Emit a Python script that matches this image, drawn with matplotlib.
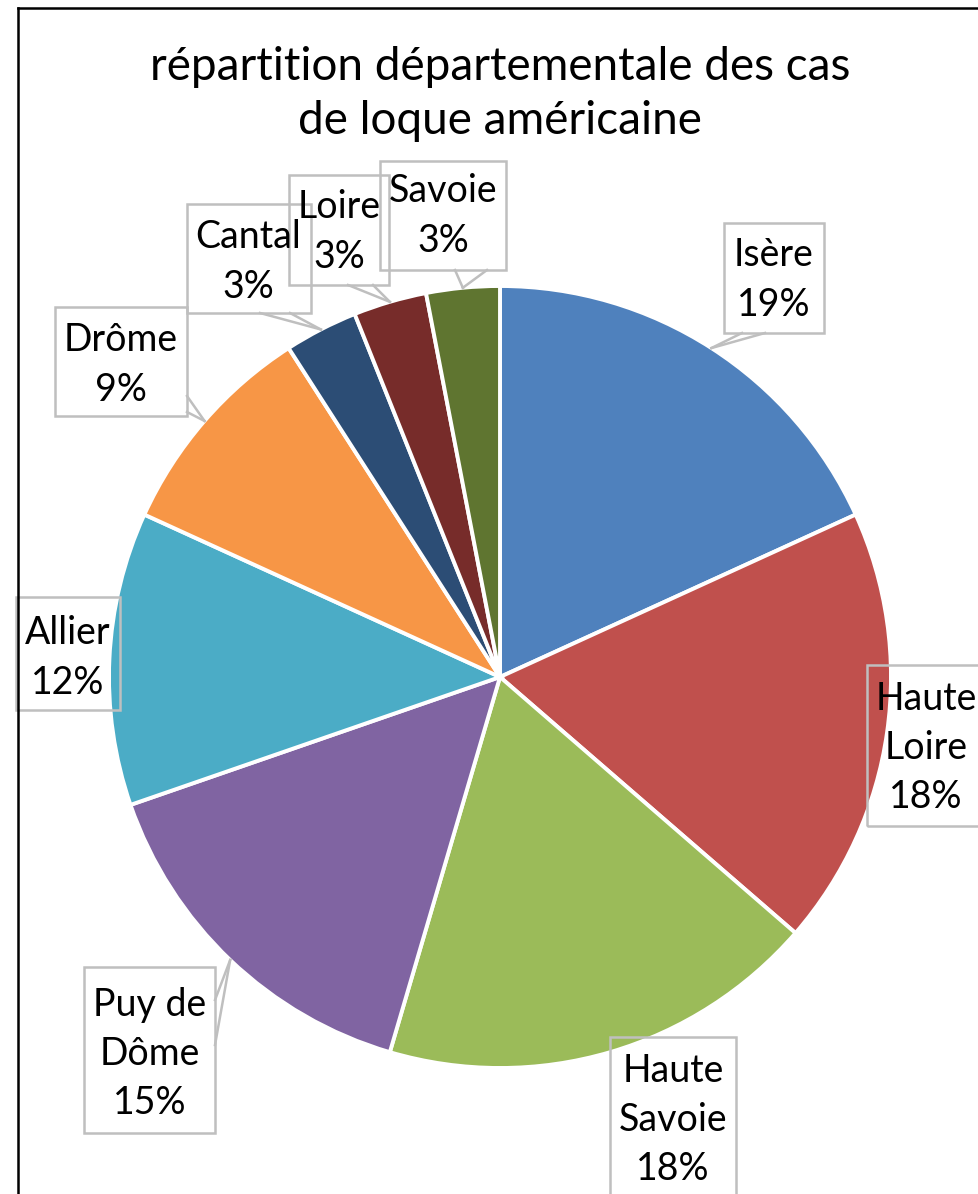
import matplotlib
matplotlib.use('Agg')
import matplotlib.pyplot as plt
import matplotlib.patches as mpatches
import numpy as np

# ── Données ───────────────────────────────────────────────────────────────────
departements = ['Isère', 'Haute\nLoire', 'Haute\nSavoie', 'Puy de\nDôme', 'Allier',
                'Drôme', 'Cantal', 'Loire', 'Savoie']
nb_cas = [6, 6, 6, 5, 4, 3, 1, 1, 1]                  # taille des secteurs
pourcentages = [19, 18, 18, 15, 12, 9, 3, 3, 3]       # étiquettes affichées
couleurs = ['#4F81BD', '#C0504D', '#9BBB59', '#8064A2', '#4BACC6',
            '#F79646', '#2C4D75', '#772C2A', '#5F7530']
titre = 'répartition départementale des cas\nde loque américaine'

# ── Mise en page (pixels, origine en haut à gauche) ──────────────────────────
W, H = 979, 1194
CX, CY, R = 500, 677, 391
# boîte (x0, y0, x1, y1), centre texte (x, y), base de la queue (2 points) ou None
boites = [
    ((724, 223, 824, 333), (774, 280), [(742, 333), (765, 333)]),
    ((867, 665, 1000, 826), (926, 748), None),
    ((610, 1037, 736, 1220), (673, 1120), None),
    ((84, 967, 215, 1133), (150, 1054), [(215, 1000), (215, 1045)]),
    ((16, 597, 120, 710), (68, 658), None),
    ((55, 307, 187, 416), (121, 365), [(187, 396), (187, 412)]),
    ((187, 204, 311, 313), (248, 262), [(260, 313), (290, 313)]),
    ((289, 175, 389, 285), (339, 232), [(348, 285), (373, 285)]),
    ((380, 161, 506, 270), (443, 216), [(455, 270), (487, 270)]),
]

def Y(py):
    return H - py

plt.rcParams['font.family'] = ['Lato', 'DejaVu Sans']

fig = plt.figure(figsize=(W / 100, H / 100), dpi=100)
ax = fig.add_axes([0, 0, 1, 1])

wedges, _ = ax.pie(nb_cas, colors=couleurs, startangle=90, counterclock=False,
                   center=(CX, Y(CY)), radius=R,
                   wedgeprops=dict(edgecolor='white', linewidth=2.8))
ax.set_xlim(0, W)
ax.set_ylim(0, H)
ax.set_aspect('equal')
ax.axis('off')

gris = '#BFBFBF'
for w, nom, pct, (rect, centre, base) in zip(wedges, departements, pourcentages, boites):
    x0, y0, x1, y1 = rect
    ax.add_patch(mpatches.Rectangle((x0, Y(y1)), x1 - x0, y1 - y0, fill=False,
                                    edgecolor=gris, linewidth=1.8, clip_on=False))
    ax.text(centre[0], Y(centre[1]), f'{nom}\n{pct}%', ha='center', va='center',
            fontsize=27, linespacing=1.45, color='black')
    if base is not None:
        a = np.deg2rad((w.theta1 + w.theta2) / 2)
        tx = w.center[0] + w.r * np.cos(a)
        ty = w.center[1] + w.r * np.sin(a)
        for bx, by in base:
            ax.plot([bx, tx], [Y(by), ty], color=gris, linewidth=1.8)

ax.text(500, Y(94), titre, ha='center', va='center', fontsize=33, linespacing=1.38)

# cadre du graphique
ax.plot([18, 18], [Y(8), -20], color='black', linewidth=1.8, clip_on=False)
ax.plot([18, W + 20], [Y(8), Y(8)], color='black', linewidth=1.8, clip_on=False)

fig.savefig('out.png', dpi=100, facecolor='white')
